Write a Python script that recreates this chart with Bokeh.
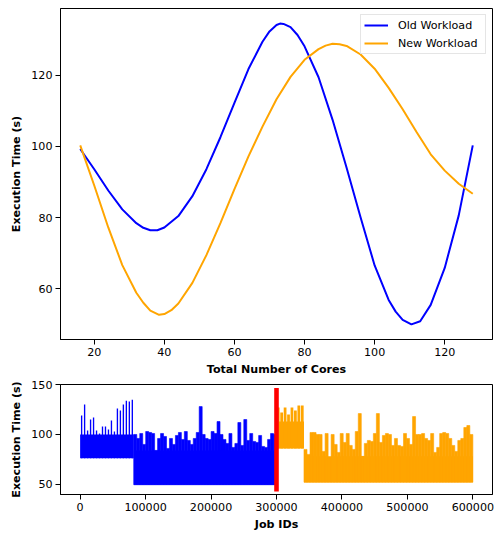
from bokeh.plotting import figure
from bokeh.layouts import column
from bokeh.models import FixedTicker, BasicTickFormatter, Range1d
from bokeh.embed import file_html
from bokeh.resources import INLINE

# ---------------- top panel data ----------------
old_cores = [16, 20, 24, 28, 32, 34, 36, 38, 40, 44, 48, 52, 56, 60, 64, 68, 70, 72, 73, 74,
             76, 78, 80, 84, 88, 92, 96, 100, 104, 106, 108, 110.5, 113, 116, 120, 124, 128]
old_time = [99.3, 93.6, 87.6, 82.3, 78.4, 77.1, 76.4, 76.4, 77.2, 80.4, 86.0, 93.6, 102.6,
            112.3, 121.8, 129.5, 132.4, 134.2, 134.6, 134.5, 133.6, 131.4, 128.2, 119.5,
            107.5, 94.0, 80.0, 66.5, 56.8, 53.5, 51.2, 49.9, 50.8, 55.4, 65.8, 80.6, 100.3]
new_cores = [16, 20, 24, 28, 32, 34, 36, 38.5, 40, 42, 44, 48, 52, 56, 60, 64, 68, 72, 76,
             80, 84, 86, 88, 90, 92, 96, 100, 104, 108, 112, 116, 120, 124, 128]
new_time = [100.3, 89.0, 77.2, 66.6, 58.8, 56.0, 53.8, 52.6, 52.8, 53.9, 55.8, 61.6, 69.4,
            78.4, 88.0, 97.2, 105.6, 113.3, 119.6, 124.4, 127.4, 128.4, 128.9, 128.8, 128.3,
            125.9, 121.9, 116.5, 110.5, 104.0, 97.8, 93.2, 89.5, 86.7]

# ---------------- bottom panel data ----------------
seg_start = [0, 82000, 300000, 342000]
seg_end = [82000, 300000, 342000, 600000]
seg_color = ["#0000ff", "#0000ff", "#ffa500", "#ffa500"]
seg_base = [76, 49.5, 86, 52]
seg_band = [100, 84, 113, 78]
seg_peaks = [
    [119, 130, 104, 115, 117, 104, 101, 108, 108, 105, 114, 103, 126, 124, 130, 134, 133, 135],
    [100, 96, 101, 90, 103, 102, 101, 84, 96, 101, 98, 86, 96, 90, 99, 102, 95, 103, 94, 90,
     96, 102, 128, 100, 96, 95, 103, 101, 113, 100, 95, 91, 101, 87, 91, 112, 89, 115, 94, 101,
     93, 92, 99, 88, 87, 95, 101, 100],
    [127, 122, 127, 120, 127, 124, 129, 129],
    [85, 80, 102, 102, 100, 100, 83, 101, 76, 100, 90, 82, 101, 92, 101, 89, 85, 103, 121, 78,
     91, 94, 93, 101, 121, 92, 99, 101, 100, 89, 96, 89, 88, 101, 96, 90, 118, 100, 100, 101,
     96, 94, 101, 82, 87, 101, 102, 101, 96, 89, 83, 94, 96, 107, 109, 100],
]
seg_bar_frac = [0.45, 1.0, 0.8, 1.0]
split_job = 300000
split_low, split_high = 42.6, 146.6

FONT = "DejaVu Sans"
FS = "11.1px"


def style(p):
    p.outline_line_color = "black"
    p.outline_line_width = 1
    p.grid.visible = False
    for ax in (p.xaxis[0], p.yaxis[0]):
        ax.axis_line_color = "black"
        ax.axis_line_width = 1
        ax.major_tick_in = 0
        ax.major_tick_out = 5
        ax.major_tick_line_color = "black"
        ax.minor_tick_line_color = None
        ax.major_label_text_font = FONT
        ax.major_label_text_font_size = FS
        ax.major_label_text_color = "black"
        ax.axis_label_text_font = FONT
        ax.axis_label_text_font_size = FS
        ax.axis_label_text_font_style = "bold"
        ax.axis_label_text_color = "black"
    p.xaxis.major_label_standoff = 3
    p.xaxis.axis_label_standoff = 4
    p.yaxis.major_label_standoff = 3
    p.yaxis.axis_label_standoff = 5


p1 = figure(width=498, height=378, x_range=Range1d(10.37, 133.63), y_range=Range1d(45.65, 138.85),
            output_backend="svg", toolbar_location=None,
            min_border_left=60, min_border_right=6, min_border_top=8, min_border_bottom=39)
p1.line(old_cores, old_time, color="#0000ff", line_width=2, legend_label="Old Workload")
p1.line(new_cores, new_time, color="#ffa500", line_width=2, legend_label="New Workload")
style(p1)
p1.xaxis.ticker = FixedTicker(ticks=[20, 40, 60, 80, 100, 120])
p1.yaxis.ticker = FixedTicker(ticks=[60, 80, 100, 120])
p1.xaxis.axis_label = "Total Number of Cores"
p1.yaxis.axis_label = "Execution Time (s)"
lg = p1.legend[0]
lg.location = "top_right"
lg.margin = 6
lg.padding = 3
lg.spacing = 4
lg.glyph_width = 24
lg.glyph_height = 14
lg.label_height = 14
lg.label_width = 84
lg.label_standoff = 10
lg.label_text_font = FONT
lg.label_text_font_size = FS
lg.label_text_color = "black"
lg.border_line_color = "#cccccc"
lg.border_line_width = 1
lg.background_fill_alpha = 0.8

p2 = figure(width=498, height=156, x_range=Range1d(-30000, 630000), y_range=Range1d(39.7, 150.2),
            output_backend="svg", toolbar_location=None,
            min_border_left=60, min_border_right=6, min_border_top=6, min_border_bottom=40)
for s, e, c, b, band, peaks, frac in zip(seg_start, seg_end, seg_color, seg_base, seg_band,
                                          seg_peaks, seg_bar_frac):
    n = len(peaks)
    w = (e - s) / n
    xs = [s + (i + 0.5) * w for i in range(n)]
    p2.quad(left=[s], right=[e], bottom=[b], top=[band], color=c, line_color=None)
    if frac >= 1.0:
        p2.vbar(x=xs, width=w, bottom=b, top=peaks, fill_color=c, line_color=c, line_width=0.6)
    else:
        p2.vbar(x=xs, width=w * frac, bottom=b, top=peaks, color=c, line_color=None)
p2.segment(x0=[split_job], y0=[split_low], x1=[split_job], y1=[split_high],
           line_color="#ff0000", line_width=4.6)
style(p2)
p2.xaxis.ticker = FixedTicker(ticks=[0, 100000, 200000, 300000, 400000, 500000, 600000])
p2.xaxis.formatter = BasicTickFormatter(use_scientific=False)
p2.yaxis.ticker = FixedTicker(ticks=[50, 100, 150])
p2.xaxis.axis_label = "Job IDs"
p2.yaxis.axis_label = "Execution Time (s)"

layout = column(p1, p2, spacing=0)
open("out.html", "w").write(file_html(layout, INLINE))
